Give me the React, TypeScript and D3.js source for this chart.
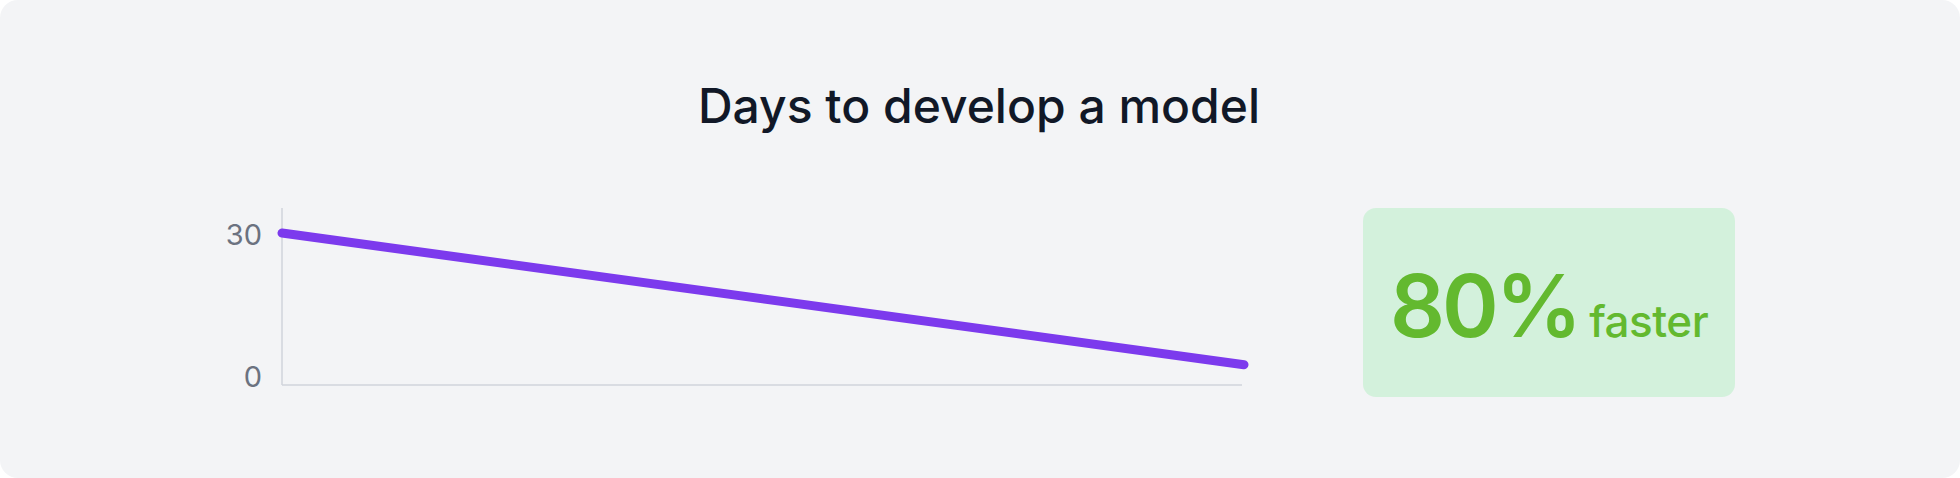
import { useEffect, useRef } from "react";
import * as d3 from "d3";

// Chart data
const stages = ["Before", "After"];
const daysToDevelop = [30, 4];
const yTicks = [0, 30];
const title = "Days to develop a model";
const highlightValue = "80%";
const highlightLabel = "faster";

const WIDTH = 1960;
const HEIGHT = 478;

// Layout constants
const PLOT = { left: 282, right: 1244, top: 208, bottom: 385 };
const COLORS = {
  card: "#f3f4f6",
  axis: "#d1d5db",
  tick: "#6b7280",
  line: "#7c3aed",
  title: "#111827",
  badge: "#d3f1dc",
  badgeText: "#63b92f",
};

export default function App() {
  const svgRef = useRef<SVGSVGElement>(null);

  useEffect(() => {
    if (!svgRef.current) return;
    const svg = d3.select(svgRef.current);
    svg.selectAll("*").remove();

    // Card background
    svg
      .append("rect")
      .attr("width", WIDTH)
      .attr("height", HEIGHT)
      .attr("rx", 18)
      .attr("fill", COLORS.card);

    // Title
    svg
      .append("text")
      .attr("x", 979)
      .attr("y", 123)
      .attr("text-anchor", "middle")
      .attr("font-family", "Inter, sans-serif")
      .attr("font-size", 48)
      .attr("font-weight", 550)
      .attr("letter-spacing", 0)
      .attr("fill", COLORS.title)
      .text(title);

    const xScale = d3
      .scalePoint<string>()
      .domain(stages)
      .range([PLOT.left, PLOT.right]);

    const yScale = d3
      .scaleLinear()
      .domain([0, 30])
      .range([PLOT.bottom, 233]);

    // Axes lines
    const g = svg.append("g");
    g.append("line")
      .attr("x1", PLOT.left)
      .attr("x2", PLOT.left)
      .attr("y1", PLOT.top)
      .attr("y2", PLOT.bottom)
      .attr("stroke", COLORS.axis)
      .attr("stroke-width", 1.5);
    g.append("line")
      .attr("x1", PLOT.left)
      .attr("x2", PLOT.right - 2)
      .attr("y1", PLOT.bottom)
      .attr("y2", PLOT.bottom)
      .attr("stroke", COLORS.axis)
      .attr("stroke-width", 1.5);

    // Y tick labels (no tick marks)
    const yAxis = d3
      .axisLeft(yScale)
      .tickValues(yTicks)
      .tickSize(0)
      .tickPadding(20);
    const yAxisG = svg
      .append("g")
      .attr("transform", `translate(${PLOT.left},0)`)
      .call(yAxis);
    yAxisG.select(".domain").remove();
    yAxisG
      .selectAll<SVGTextElement, number>("text")
      .attr("font-family", "Inter, sans-serif")
      .attr("font-size", 29)
      .attr("fill", COLORS.tick)
      .attr("dy", (d) => (d === 0 ? "0.05em" : "0.4em"));

    // Line
    const line = d3
      .line<number>()
      .x((_, i) => xScale(stages[i]) ?? 0)
      .y((d) => yScale(d));

    svg
      .append("path")
      .datum(daysToDevelop)
      .attr("d", line)
      .attr("fill", "none")
      .attr("stroke", COLORS.line)
      .attr("stroke-width", 9)
      .attr("stroke-linecap", "round");

    // Highlight badge
    const badge = svg.append("g");
    badge
      .append("rect")
      .attr("x", 1363)
      .attr("y", 208)
      .attr("width", 372)
      .attr("height", 189)
      .attr("rx", 13)
      .attr("fill", COLORS.badge);

    const label = badge
      .append("text")
      .attr("x", 1390)
      .attr("y", 337)
      .attr("font-family", "Inter, sans-serif")
      .attr("fill", COLORS.badgeText);
    label
      .append("tspan")
      .attr("font-size", 86)
      .attr("font-weight", 600)
      .attr("letter-spacing", -3)
      .text(highlightValue);
    label
      .append("tspan")
      .attr("dx", 10)
      .attr("font-size", 44)
      .attr("font-weight", 500)
      .attr("letter-spacing", -0.5)
      .text(highlightLabel);
  }, []);

  return (
    <svg
      ref={svgRef}
      width={WIDTH}
      height={HEIGHT}
      style={{ position: "absolute", left: 0, top: 0, background: "#fff" }}
    />
  );
}
